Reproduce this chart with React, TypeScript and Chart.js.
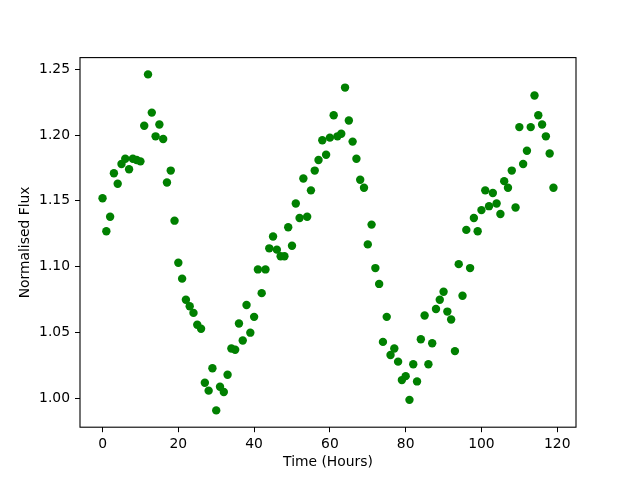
import React, { useEffect, useRef } from "react";
import { Chart, registerables } from "chart.js";

Chart.register(...registerables);

const hours: number[] = Array.from({ length: 120 }, (_, i) => i);

const flux: number[] = [
  1.152, 1.127, 1.138, 1.171, 1.163, 1.178, 1.182, 1.174, 1.182, 1.181,
  1.180, 1.207, 1.246, 1.217, 1.199, 1.208, 1.197, 1.164, 1.173, 1.135,
  1.103, 1.091, 1.075, 1.070, 1.065, 1.056, 1.053, 1.012, 1.006, 1.023,
  0.991, 1.009, 1.005, 1.018, 1.038, 1.037, 1.057, 1.044, 1.071, 1.050,
  1.062, 1.098, 1.080, 1.098, 1.114, 1.123, 1.113, 1.108, 1.108, 1.130,
  1.116, 1.148, 1.137, 1.167, 1.138, 1.158, 1.173, 1.181, 1.196, 1.185,
  1.198, 1.215, 1.199, 1.201, 1.236, 1.211, 1.195, 1.182, 1.166, 1.160,
  1.117, 1.132, 1.099, 1.087, 1.043, 1.062, 1.033, 1.038, 1.028, 1.014,
  1.017, 0.999, 1.026, 1.013, 1.045, 1.063, 1.026, 1.042, 1.068, 1.075,
  1.081, 1.066, 1.060, 1.036, 1.102, 1.078, 1.128, 1.099, 1.137, 1.127,
  1.143, 1.158, 1.146, 1.156, 1.148, 1.140, 1.165, 1.160, 1.173, 1.145,
  1.206, 1.178, 1.188, 1.206, 1.230, 1.215, 1.208, 1.199, 1.186, 1.160,
];

const xTicks: number[] = [0, 20, 40, 60, 80, 100, 120];
const yTicks: number[] = [1.0, 1.05, 1.1, 1.15, 1.2, 1.25];

const xLabel = "Time (Hours)";
const yLabel = "Normalised Flux";

export default function App() {
  const ref = useRef<HTMLCanvasElement | null>(null);

  useEffect(() => {
    if (!ref.current) return;
    const xMinD = Math.min(...hours);
    const xMaxD = Math.max(...hours);
    const yMinD = Math.min(...flux);
    const yMaxD = Math.max(...flux);
    const xm = (xMaxD - xMinD) * 0.05;
    const ym = (yMaxD - yMinD) * 0.05;
    const font = { family: "'DejaVu Sans', sans-serif", size: 13.89 };

    const frame = {
      id: "frame",
      afterDatasetsDraw(chart: any) {
        const { ctx, chartArea } = chart;
        ctx.save();
        ctx.strokeStyle = "#000";
        ctx.lineWidth = 1.1;
        ctx.strokeRect(
          chartArea.left,
          chartArea.top,
          chartArea.right - chartArea.left,
          chartArea.bottom - chartArea.top
        );
        ctx.restore();
      },
    };

    const chart = new Chart(ref.current, {
      type: "scatter",
      data: {
        datasets: [
          {
            data: hours.map((h, i) => ({ x: h, y: flux[i] })),
            backgroundColor: "#008000",
            borderColor: "#008000",
            pointRadius: 4.2,
            pointHoverRadius: 4.2,
            borderWidth: 0,
          },
        ],
      },
      options: {
        responsive: false,
        animation: false,
        events: [],
        layout: { padding: { left: 0, top: 57.6, right: 64, bottom: 0 } },
        plugins: { legend: { display: false }, tooltip: { enabled: false } },
        scales: {
          x: {
            type: "linear",
            min: xMinD - xm,
            max: xMaxD + xm,
            afterBuildTicks: (s: any) => {
              s.ticks = xTicks.map((v) => ({ value: v }));
            },
            afterFit: (s: any) => {
              s.height = 52.8;
            },
            border: { display: false },
            grid: {
              drawOnChartArea: false,
              drawTicks: true,
              tickLength: 5,
              color: "#000",
              lineWidth: 1,
            },
            ticks: {
              color: "#000",
              font,
              padding: 4,
              maxRotation: 0,
              callback: (v: any) => String(v),
            },
            title: {
              display: true,
              text: xLabel,
              color: "#000",
              font,
              padding: { top: 0, bottom: 9 },
            },
          },
          y: {
            type: "linear",
            min: yMinD - ym,
            max: yMaxD + ym,
            afterBuildTicks: (s: any) => {
              s.ticks = yTicks.map((v) => ({ value: v }));
            },
            afterFit: (s: any) => {
              s.width = 80;
            },
            border: { display: false },
            grid: {
              drawOnChartArea: false,
              drawTicks: true,
              tickLength: 5,
              color: "#000",
              lineWidth: 1,
            },
            ticks: {
              color: "#000",
              font,
              padding: 5,
              callback: (v: any) => Number(v).toFixed(2),
            },
            title: {
              display: true,
              text: yLabel,
              color: "#000",
              font,
              padding: { top: 17.5, bottom: 0 },
            },
          },
        },
      },
      plugins: [frame],
    });
    return () => chart.destroy();
  }, []);

  return (
    <div style={{ position: "fixed", left: 0, top: 0, width: 640, height: 480, background: "#fff" }}>
      <canvas ref={ref} width={640} height={480} style={{ display: "block" }} />
    </div>
  );
}
